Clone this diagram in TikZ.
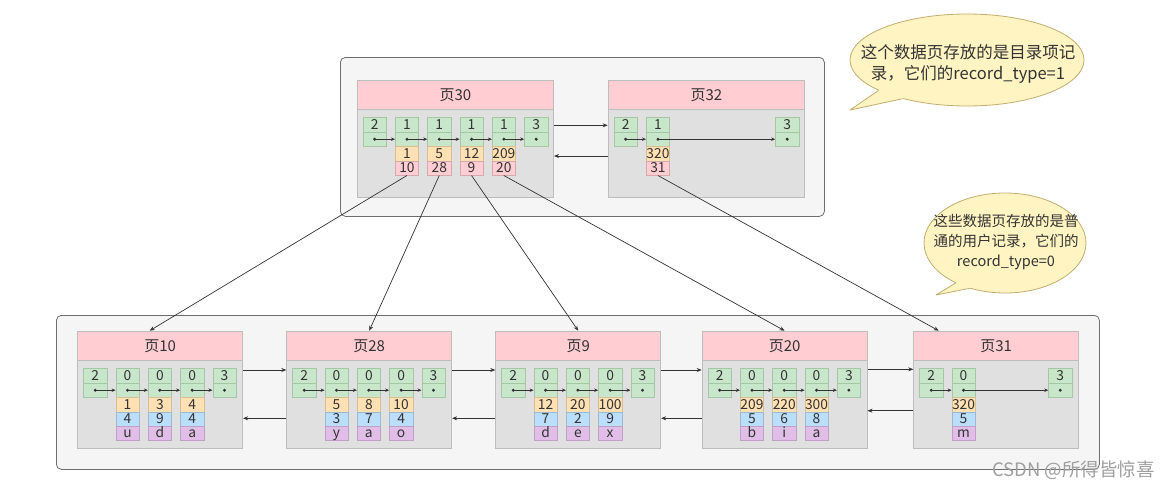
\documentclass[tikz,border=0pt]{standalone}
\usepackage{fontspec}
\setmainfont{Noto Sans CJK SC}
\usetikzlibrary{arrows.meta,shapes.geometric,calc}
\definecolor{txt}{HTML}{333333}
\definecolor{contline}{HTML}{6E6E6E}
\definecolor{contfill}{HTML}{F5F5F5}
\definecolor{pageline}{HTML}{BDBDBD}
\definecolor{pagefill}{HTML}{E0E0E0}
\definecolor{headfill}{HTML}{FFCDD2}
\definecolor{gfill}{HTML}{C8E6C9}
\definecolor{gline}{HTML}{A7C6A6}
\definecolor{yfill}{HTML}{FFE0B2}
\definecolor{yline}{HTML}{D9BE94}
\definecolor{rfill}{HTML}{FFCDD2}
\definecolor{rline}{HTML}{D7A9AE}
\definecolor{bfill}{HTML}{BBDEFB}
\definecolor{bline}{HTML}{9DB9D3}
\definecolor{vfill}{HTML}{E1BEE7}
\definecolor{vline}{HTML}{BFA1C4}
\definecolor{callfill}{HTML}{FFF4C2}
\definecolor{callline}{HTML}{C2AD6E}
\newcommand\gpair[4]{%
  \node[gcell] (#1-a) at ({#2},{#3}) {#4};
  \node[gcell] (#1-b) at ({#2},{#3+14.4}) {};
  \node[dotn] (#1-d) at (#1-b.center) {};
}
\newcommand\lowpage[4]{%
  \node[pagehead, minimum width=165pt, minimum height=29.3pt] (#1h) at (#2,330.7) {#3};
  \node[pagebody, minimum width=165pt, minimum height=88pt] (#1) at (#2,360) {};
  \foreach \i/\k in {1/2,2/0,3/0,4/0,5/3} {\gpair{#1-\i}{#2+6+32.3*(\i-1)}{368.3}{\k}}
  \foreach \i/\j in {1/2,2/3,3/4,4/5} {\draw[inlink] (#1-\i-d.center) -- (#1-\j-b.west);}
  \foreach \i/\a/\b/\c in {#4} {
    \node[ycell] (#1-\i-y) at ({#2+6+32.3*(\i-1)},397.1) {\a};
    \node[bcell] (#1-\i-u) at ({#2+6+32.3*(\i-1)},411.5) {\b};
    \node[vcell] (#1-\i-v) at ({#2+6+32.3*(\i-1)},425.9) {\c};
  }
}
\begin{document}
\begin{tikzpicture}[x=1pt,y=-1pt,
  cont/.style={draw=contline, fill=contfill, rounded corners=5pt, line width=0.8pt, anchor=north west, inner sep=0pt},
  pagebody/.style={draw=pageline, fill=pagefill, line width=0.8pt, anchor=north west, inner sep=0pt},
  pagehead/.style={draw=pageline, fill=headfill, line width=0.8pt, anchor=north west, inner sep=0pt, text=txt, font=\fontsize{15}{17}\selectfont},
  cellb/.style={draw, line width=0.6pt, minimum width=23.3pt, minimum height=14.4pt, inner sep=0pt, text height=10pt, text depth=1.2pt, anchor=north west, text=txt, font=\fontsize{13.8}{14}\selectfont},
  gcell/.style={cellb, fill=gfill, draw=gline},
  ycell/.style={cellb, fill=yfill, draw=yline},
  rcell/.style={cellb, fill=rfill, draw=rline},
  bcell/.style={cellb, fill=bfill, draw=bline},
  vcell/.style={cellb, fill=vfill, draw=vline},
  dotn/.style={circle, fill=txt, inner sep=0pt, minimum size=3.3pt},
  link/.style={draw=txt, line width=0.7pt, -{Stealth[length=5pt,width=4pt]}},
  inlink/.style={draw=txt, line width=0.7pt, -{Stealth[length=4pt,width=3.4pt]}},
  bubble/.style={ellipse, draw=callline, fill=callfill, line width=0.8pt, inner sep=0pt},
  bubtext/.style={text=txt, align=center, font=\fontsize{16.5}{21}\selectfont, inner sep=0pt}
]
\useasboundingbox (0,0) rectangle (1170,490);
\fill[white] (0,0) rectangle (1170,490);

% containers
\node[cont, minimum width=484pt, minimum height=159pt] (topbox) at (340,57) {};
\node[cont, minimum width=1043pt, minimum height=154pt] (lowbox) at (56,315) {};

% page 30
\node[pagehead, minimum width=196.5pt, minimum height=29pt] (p30h) at (356.7,80) {页30};
\node[pagebody, minimum width=196.5pt, minimum height=88pt] (p30) at (356.7,109) {};
\foreach \i/\k in {1/2,2/1,3/1,4/1,5/1,6/3} {\gpair{p30-\i}{362.7+32.3*(\i-1)}{117.3}{\k}}
\foreach \i/\j in {1/2,2/3,3/4,4/5,5/6} {\draw[inlink] (p30-\i-d.center) -- (p30-\j-b.west);}
\foreach \i/\a/\b in {2/1/10,3/5/28,4/12/9,5/209/20} {
  \node[ycell] (p30-\i-y) at ({362.7+32.3*(\i-1)},146.1) {\a};
  \node[rcell] (p30-\i-r) at ({362.7+32.3*(\i-1)},160.5) {\b};
}

% page 32
\node[pagehead, minimum width=196.5pt, minimum height=29pt] (p32h) at (607.7,80) {页32};
\node[pagebody, minimum width=196.5pt, minimum height=88pt] (p32) at (607.7,109) {};
\gpair{p32-1}{613.7}{117.3}{2}
\gpair{p32-2}{646}{117.3}{1}
\gpair{p32-3}{775.2}{117.3}{3}
\draw[inlink] (p32-1-d.center) -- (p32-2-b.west);
\draw[inlink] (p32-2-d.center) -- (p32-3-b.west);
\node[ycell] (p32-2-y) at (646,146.1) {320};
\node[rcell] (p32-2-r) at (646,160.5) {31};

\draw[link] ([yshift=-16.3pt]p30.north east) -- ([yshift=-16.3pt]p32.north west);
\draw[link] ([yshift=-47pt]p32.north west) -- ([yshift=-47pt]p30.north east);

% lower pages
\lowpage{p10}{77.3}{页10}{2/1/4/u,3/3/9/d,4/4/4/a}
\lowpage{p28}{286.3}{页28}{2/5/3/y,3/8/7/a,4/10/4/o}
\lowpage{p9}{495.3}{页9}{2/12/7/d,3/20/2/e,4/100/9/x}
\lowpage{p20}{701.7}{页20}{2/209/5/b,3/220/6/i,4/300/8/a}

% page 31
\node[pagehead, minimum width=165pt, minimum height=29.3pt] (p31h) at (913.3,330.7) {页31};
\node[pagebody, minimum width=165pt, minimum height=88pt] (p31) at (913.3,360) {};
\gpair{p31-1}{919.3}{368.3}{2}
\gpair{p31-2}{951.6}{368.3}{0}
\gpair{p31-3}{1048.3}{368.3}{3}
\draw[inlink] (p31-1-d.center) -- (p31-2-b.west);
\draw[inlink] (p31-2-d.center) -- (p31-3-b.west);
\node[ycell] (p31-2-y) at (951.6,397.1) {320};
\node[bcell] (p31-2-u) at (951.6,411.5) {5};
\node[vcell] (p31-2-v) at (951.6,425.9) {m};

% links between lower pages
\foreach \a/\b in {p10/p28,p28/p9,p9/p20} {
  \draw[link] ([yshift=-10pt]\a.north east) -- ([yshift=-10pt]\b.north west);
  \draw[link] ([yshift=-58.3pt]\b.north west) -- ([yshift=-58.3pt]\a.north east);
}
\draw[link] ([yshift=-9.3pt]p20.north east) -- ([yshift=-9.3pt]p31.north west);
\draw[link] ([yshift=-50.7pt]p31.north west) -- ([yshift=-50.7pt]p20.north east);

% links from directory records to pages
\draw[link] (p30-2-r.south) -- ([xshift=-10.5pt]p10h.north);
\draw[link] (p30-3-r.south) -- (p28h.north);
\draw[link] (p30-4-r.south) -- (p9h.north);
\draw[link] (p30-5-r.south) -- (p20h.north);
\draw[link] (p32-2-r.south) -- ([xshift=-57.5pt]p31h.north);

% callout 1
\node[bubble, minimum width=234pt, minimum height=92pt] (c1) at (967,60) {};
\coordinate (c1tip) at (850,110);
\fill[callfill] (c1.199) -- (c1tip) -- (c1.211) -- ($(c1.211)!4pt!(c1.center)$) -- ($(c1.199)!4pt!(c1.center)$) -- cycle;
\draw[callline, line width=0.8pt, line join=round] (c1.199) -- (c1tip) -- (c1.211);
\node[bubtext] (c1t) at (968,64) {这个数据页存放的是目录项记\\录，它们的record\_type=1};

% callout 2
\node[bubble, minimum width=162pt, minimum height=100pt] (c2) at (1005,243) {};
\coordinate (c2tip) at (936,295);
\fill[callfill] (c2.219) -- (c2tip) -- (c2.232) -- ($(c2.232)!4pt!(c2.center)$) -- ($(c2.219)!4pt!(c2.center)$) -- cycle;
\draw[callline, line width=0.8pt, line join=round] (c2.219) -- (c2tip) -- (c2.232);
\node[bubtext, font=\fontsize{14.5}{20}\selectfont] (c2t) at (1006,242) {这些数据页存放的是普\\通的用户记录，它们的\\record\_type=0};

% watermark
\node[text=gray!75, font=\fontsize{18.5}{20}\selectfont, anchor=east, inner sep=0pt] (wm) at (1155,470) {CSDN @所得皆惊喜};
\end{tikzpicture}
\end{document}
